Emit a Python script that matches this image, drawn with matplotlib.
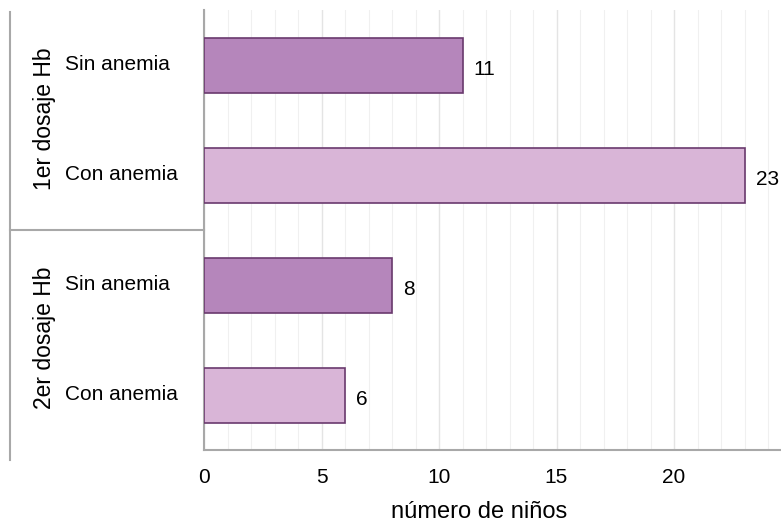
import numpy as np
import matplotlib.pyplot as plt
from matplotlib.lines import Line2D

plt.rcParams['font.family'] = ['Liberation Sans', 'DejaVu Sans']

# data (top to bottom)
groups = ['1er dosaje Hb', '2er dosaje Hb']
categories = ['Sin anemia', 'Con anemia', 'Sin anemia', 'Con anemia']
values = [11, 23, 8, 6]
xticks = [0, 5, 10, 15, 20]

col_dark = '#b586bb'
col_light = '#d9b5d7'
edge = '#6a3a6e'
colors = [col_dark, col_light, col_dark, col_light]

W, H = 781, 523
fig = plt.figure(figsize=(W / 100, H / 100), dpi=100)
ax = fig.add_axes([204 / W, 1 - 450 / H, 1 - 204 / W, 440 / H])

pos = np.arange(len(values))
ax.barh(pos, values, height=0.5, color=colors, edgecolor=edge, linewidth=1.2, zorder=3)
for p, v in zip(pos, values):
    ax.text(v + 0.47, p + 0.04, str(v), va='center', ha='left', fontsize=15)

ax.set_ylim(3.5, -0.5)
ax.set_xlim(0, 577 / 23.5)
ax.set_xticks(xticks)
ax.set_xticks(np.arange(0, 25, 1), minor=True)
ax.grid(True, axis='x', which='major', color='#e4e4e4', linewidth=1.0, zorder=0)
ax.grid(True, axis='x', which='minor', color='#f0f0f0', linewidth=0.8, zorder=0)
ax.tick_params(axis='x', which='both', length=0, labelsize=15, pad=13)
ax.set_yticks([])
for s in ['top', 'right']:
    ax.spines[s].set_visible(False)
for s in ['left', 'bottom']:
    ax.spines[s].set_color('#a8a8a8')
    ax.spines[s].set_linewidth(1.5)
ax.set_xlabel('número de niños', fontsize=17, va='baseline')
ax.xaxis.set_label_coords((479 - 204) / 577, -(518 - 450) / 440)

# category labels to the left of the axis
for p, c in zip(pos, categories):
    ax.text(-139 / 23.5, p, c, ha='left', va='center', fontsize=15)

# group labels and outer frame (figure pixel coords)
def fx(x):
    return x / W

def fy(y):
    return 1 - y / H

fig.text(fx(44), fy(119), groups[0], rotation=90, ha='center', va='center', fontsize=16.5)
fig.text(fx(44), fy(338), groups[1], rotation=90, ha='center', va='center', fontsize=16.5)
fig.add_artist(Line2D([fx(10), fx(10)], [fy(12), fy(460)], color='#a8a8a8', linewidth=1.5))
fig.add_artist(Line2D([fx(10), fx(204)], [fy(230), fy(230)], color='#a8a8a8', linewidth=1.5))

fig.savefig('out.png', dpi=100)
